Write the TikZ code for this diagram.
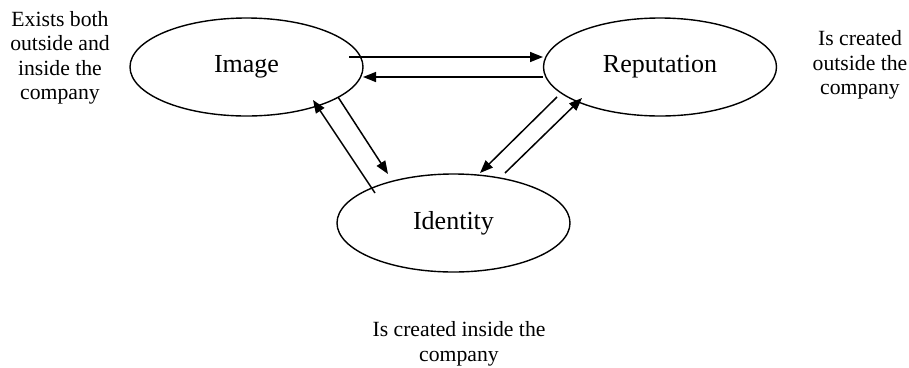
\documentclass[tikz,border=0pt]{standalone}
\usepackage{fontspec}
\setmainfont{Liberation Serif}
\usetikzlibrary{shapes.geometric,arrows.meta,calc}
\tikzset{
  oval/.style={draw, ellipse, line width=1.4bp, minimum width=233bp, minimum height=98bp, inner sep=0pt, font=\fontsize{26bp}{30bp}\selectfont},
  note/.style={align=center, font=\fontsize{21.7bp}{24.5bp}\selectfont, inner sep=0pt},
  link/.style={line width=1.5bp, -{Triangle[length=13bp,width=10bp]}}
}
\begin{document}
\begin{tikzpicture}[x=1bp,y=1bp]
\useasboundingbox (0,0) rectangle (909,-367);
\node[oval] (img) at (246.5,-67) {Image};
\node[oval] (rep) at (660,-67) {Reputation};
\node[oval] (idn) at (453.5,-223) {Identity};
\node[note] (t1) at (60,-58) {Exists both\\outside and\\inside the\\company};
\node[note] (t2) at (860,-65) {Is created\\outside the\\company};
\node[note] (t3) at (459,-344) {Is created inside the\\company};
\draw[link] ($(img)+(102.5,10)$) -- ($(rep)+(-117,10)$);
\draw[link] ($(rep)+(-117,-10)$) -- ($(img)+(116.5,-10)$);
\draw[link] ($(img)+(91.5,-30)$) -- ($(idn)+(-65.5,49)$);
\draw[link] ($(idn)+(-78.5,30)$) -- ($(img)+(66.5,-33)$);
\draw[link] ($(rep)+(-103,-30)$) -- ($(idn)+(26.5,50)$);
\draw[link] ($(idn)+(51.5,50)$) -- ($(rep)+(-78,-31)$);
\end{tikzpicture}
\end{document}
